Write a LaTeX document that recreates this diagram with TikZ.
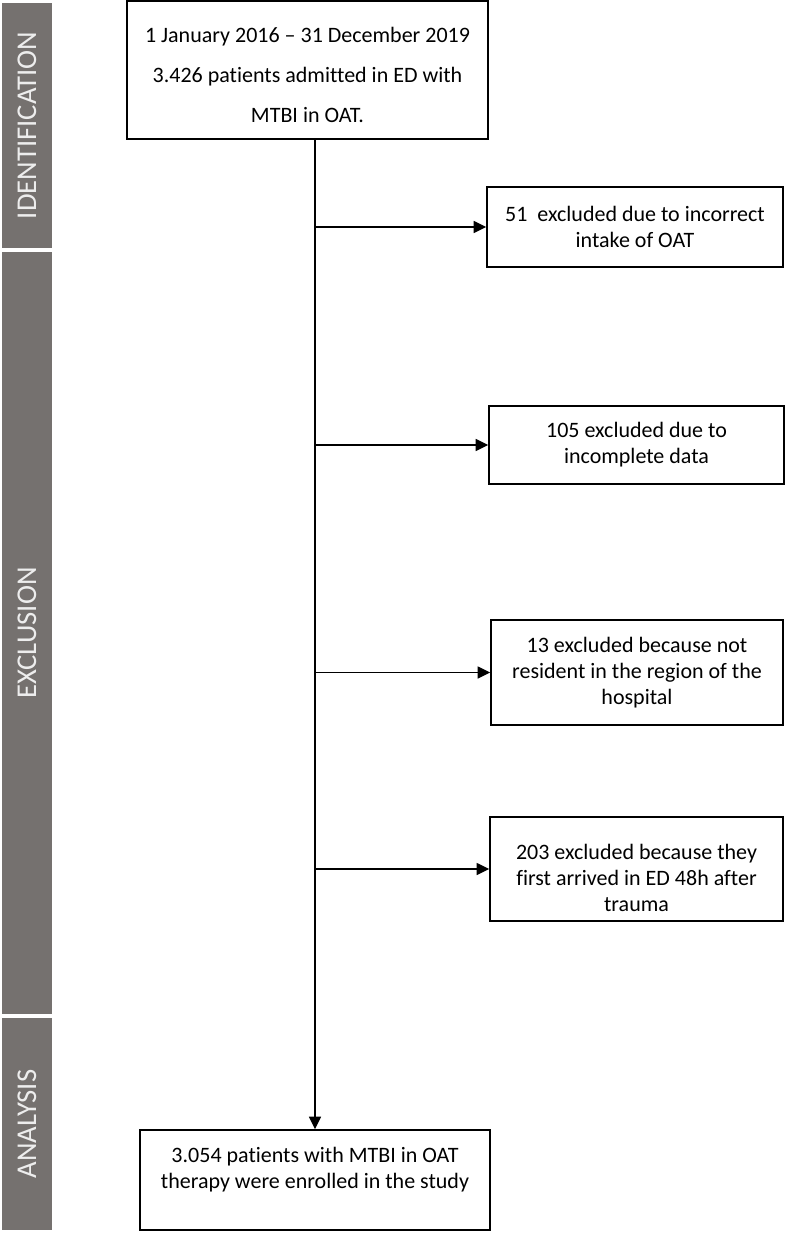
\documentclass[tikz,border=0pt]{standalone}
\usepackage{fontspec}
\setmainfont{Carlito}[Ligatures={TeX,CommonOff}]
\usepackage{tikz}
\usetikzlibrary{positioning, arrows.meta}
\definecolor{phasegray}{RGB}{117,113,111}
\tikzset{
  phase/.style={rectangle, fill=phasegray, text=white!93!black, rotate=90, minimum height=37.5pt, inner sep=0pt, font=\fontsize{21.5}{25}\selectfont},
  process/.style={rectangle, draw=black, line width=1.1pt, fill=white, align=center, inner sep=0pt, font=\fontsize{16.5}{19.5}\selectfont},
  arrow/.style={line width=1.1pt, -{Triangle[length=9.5pt, width=9pt]}}
}
\begin{document}
\begin{tikzpicture}[x=0.75pt, y=-0.75pt]
        \useasboundingbox (0,0) rectangle (786,1234);

        \node (ident) [phase, minimum width=183.75pt] at (27,125.5) {IDENTIFICATION};
        \node (excl) [phase, minimum width=571.5pt] at (27,633) {EXCLUSION};
        \node (analysis) [phase, minimum width=159pt] at (27,1124) {ANALYSIS};

        \node (period) [process, minimum width=270.75pt, minimum height=103.5pt, font=\fontsize{16.5}{30}\selectfont] at (307.5,70) {\rule{0pt}{19.5pt}1 January 2016 – 31 December 2019\\3.426 patients admitted in ED with\\MTBI in OAT.};
        \node (incorrect) [process, minimum width=222pt, minimum height=60pt] at (635,227) {51\ \ excluded due to incorrect\\intake of OAT};
        \node (incomplete) [process, minimum width=221.25pt, minimum height=58.5pt] at (636.5,445) {105 excluded due to\\incomplete data};
        \node (resident) [process, minimum width=219pt, minimum height=78.75pt] at (637,672.5) {13 excluded because not\\resident in the region of the\\hospital};
        \node (late) [process, minimum width=219.75pt, minimum height=78pt] at (636.5,869) {\rule{0pt}{25pt}203 excluded because they\\first arrived in ED 48h after\\trauma};
        \node (enrol) [process, minimum width=262.5pt, minimum height=75pt] at (315,1180) {\rule{0pt}{18pt}3.054 patients with MTBI in OAT\\therapy were enrolled in the study\\\strut};

        \draw [arrow] (period.south -| enrol.north) -- (enrol.north);
        \draw [arrow] (incorrect.west -| enrol.north) -- (incorrect.west);
        \draw [arrow] (incomplete.west -| enrol.north) -- (incomplete.west);
        \draw [arrow] (resident.west -| enrol.north) -- (resident.west);
        \draw [arrow] (late.west -| enrol.north) -- (late.west);
    \end{tikzpicture}
\end{document}
